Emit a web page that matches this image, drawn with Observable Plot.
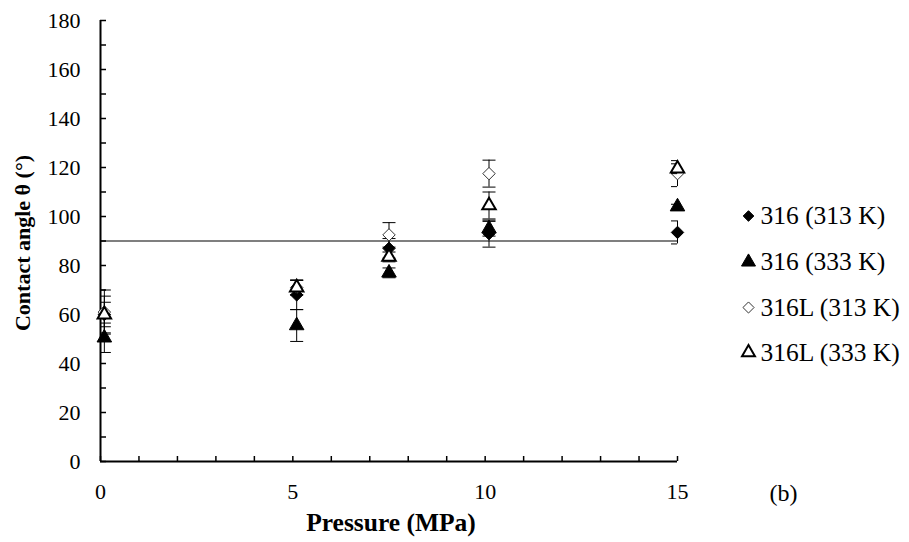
<!DOCTYPE html>
<html><head><meta charset="utf-8">
<script src="https://cdn.jsdelivr.net/npm/d3@7"></script>
<script src="https://cdn.jsdelivr.net/npm/@observablehq/plot@0.6"></script>
<style>body{margin:0;background:#fff} svg text{font-family:"Liberation Serif",serif !important;}</style>
</head><body><div id="chart"></div>
<script>
// ---- data ----
const pressures = [0.1, 5.1, 7.5, 10.1, 15];
const seriesNames = ["316 (313 K)", "316 (333 K)", "316L (313 K)", "316L (333 K)"];
const angle316_313 = [60, 68, 87, 93, 93.5];
const err316_313 = [5, 6, 4, 5.5, 4.7];
const angle316_333 = [50.5, 55.5, 77, 95, 104];
const err316_333 = [6, 6.5, 2, 3, 1];
const angle316L_313 = [61, 71, 92.5, 117.5, 117.5];
const err316L_313 = [9, 3, 5, 5.5, 5.3];
const angle316L_333 = [60, 71, 83.5, 104.5, 119.5];
const err316L_333 = [7.5, 3, 2, 5.5, 2];
const xTickLabels = [0, 5, 10, 15];
const yTickLabels = [0, 20, 40, 60, 80, 100, 120, 140, 160, 180];
const xMinorTicks = d3.range(0, 16, 1);
const yMinorTicks = d3.range(0, 181, 10);
const refAngle = [90];

// ---- styles ----
const FONT = "Liberation Serif";
const styles = [
  {symbol: "diamond2", fill: "black", stroke: "black", strokeWidth: 1, r: 5.6, lr: 4.8},
  {symbol: "triangle", fill: "black", stroke: "black", strokeWidth: 1, r: 5.4, lr: 5.2},
  {symbol: "diamond2", fill: "white", stroke: "#333", strokeWidth: 1, r: 5.6, lr: 5.0},
  {symbol: "triangle", fill: "white", stroke: "black", strokeWidth: 2, r: 5.0, lr: 4.8}
];
const legendDy = [-25, 21, 66.5, 111.5];
const allValues = [angle316_313, angle316_333, angle316L_313, angle316L_333];
const allErrors = [err316_313, err316_333, err316L_313, err316L_333];

const rows = seriesNames.map((name, i) => pressures.map((p, j) => ({
  series: name, x: p, y: allValues[i][j],
  lo: allValues[i][j] - allErrors[i][j], hi: allValues[i][j] + allErrors[i][j]
})));

const capSymbol = {draw(ctx) { ctx.moveTo(-6.5, 0); ctx.lineTo(6.5, 0); }};

const marks = [];
rows.forEach((data, i) => {
  const s = styles[i];
  marks.push(Plot.ruleX(data, {x: "x", y1: "lo", y2: "hi", stroke: "black", strokeWidth: 1}));
  marks.push(Plot.dot(data, {x: "x", y: "hi", symbol: capSymbol, r: 4, fill: "none", stroke: "black", strokeWidth: 1, clip: true}));
  marks.push(Plot.dot(data, {x: "x", y: "lo", symbol: capSymbol, r: 4, fill: "none", stroke: "black", strokeWidth: 1, clip: true}));
  marks.push(Plot.dot(data, {x: "x", y: "y", symbol: s.symbol, r: s.r, fill: s.fill, stroke: s.stroke, strokeWidth: s.strokeWidth}));
});
// legend
seriesNames.forEach((name, i) => {
  const s = styles[i];
  marks.push(Plot.dot([name], {frameAnchor: "right", dx: 71, dy: legendDy[i], symbol: s.symbol, r: s.lr, fill: s.fill, stroke: s.stroke, strokeWidth: s.strokeWidth}));
  marks.push(Plot.text([name], {text: d => d, frameAnchor: "right", dx: 83, dy: legendDy[i], textAnchor: "start", lineAnchor: "middle", fontSize: 25.5, fontFamily: FONT, fill: "black"}));
});

const chart = Plot.plot({
  width: 909, height: 542,
  marginLeft: 100, marginRight: 232, marginTop: 20, marginBottom: 81,
  x: {domain: [0, 15]},
  y: {domain: [0, 180]},
  style: {fontFamily: FONT, fontSize: "22px", color: "black", background: "white", overflow: "visible"},
  marks: [
    Plot.ruleY(refAngle, {stroke: "black", strokeWidth: 1.2}),
    Plot.axisX(xMinorTicks, {tickSize: 5, dy: -5, fill: "none", label: null, strokeWidth: 1.5, tickFormat: () => ""}),
    Plot.axisY(yMinorTicks, {tickSize: 6, dx: 6, fill: "none", label: null, strokeWidth: 1.5, tickFormat: () => ""}),
    Plot.axisX(xTickLabels, {tickSize: 0, tickPadding: 21.5, label: null, fontSize: 22, fontFamily: FONT, fontVariant: "normal"}),
    Plot.axisY(yTickLabels, {tickSize: 0, tickPadding: 20, label: null, fontSize: 22, fontFamily: FONT, fontVariant: "normal"}),
    Plot.ruleX([0], {stroke: "black", strokeWidth: 2}),
    Plot.ruleY([0], {stroke: "black", strokeWidth: 2}),
    ...marks,
    Plot.text(["Pressure (MPa)"], {text: d => d, frameAnchor: "bottom", dy: 61, dx: 2, lineAnchor: "middle", fontWeight: "bold", fontSize: 25.5, fontFamily: FONT, fill: "black"}),
    Plot.text(["Contact angle θ (°)"], {text: d => d, frameAnchor: "left", dx: -78, dy: 2, rotate: -90, textAnchor: "middle", lineAnchor: "middle", fontWeight: "bold", fontSize: 22, fontFamily: FONT, fill: "black"}),
    Plot.text(["(b)"], {text: d => d, frameAnchor: "bottom-right", dx: 106, dy: 32, textAnchor: "middle", lineAnchor: "middle", fontSize: 24, fontFamily: FONT, fill: "black"})
  ]
});
document.getElementById("chart").appendChild(chart);
</script>
</body></html>
